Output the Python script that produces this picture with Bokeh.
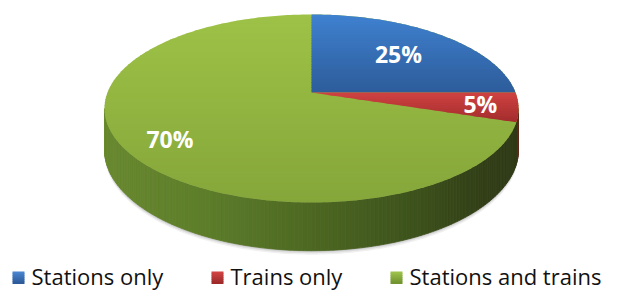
import numpy as np
from bokeh.plotting import figure
from bokeh.models import Range1d
from bokeh.core.properties import value
from bokeh.embed import file_html
from bokeh.resources import INLINE

# ---- data ----
categories = ["Stations only", "Trains only", "Stations and trains"]
shares = [25, 5, 70]
labels = ["25%", "5%", "70%"]

# ---- styles ----
top_grad = [("#3f81d0", "#2d5c9a"), ("#d04242", "#a22c2c"), ("#9ec247", "#85a63a")]
side_stops = [(0.0, "#68892f"), (0.25, "#5d7d2a"), (0.5, "#4d6822"),
              (0.75, "#3d521c"), (0.92, "#323f17"), (1.0, "#2e3a15")]
red_side = "#5e2a1c"
legend_grad = [("#4a88d4", "#2c5896"), ("#d44646", "#9a2828"), ("#a0c64c", "#6e8f2f")]
label_r = [0.65, 0.82, 0.79]
legend_sq_x = [12, 211, 390]
legend_txt_x = [31, 230, 409]

# ---- projection (perspective tilted disc) ----
CX, CY, A, B, K, H = 311.0, 92.0, 204.0, 91.3, 0.17, 40.0


def proj(theta_deg, r=1.0, bottom=False):
    t = np.radians(theta_deg)
    d = r * np.cos(t)
    s = r * np.sin(t)
    w = 1 + K * d
    x = CX + A * s / w
    y = CY - B * d / w
    if bottom:
        y = y + H / w
    return x, y


def hex2rgb(h):
    h = h.lstrip("#")
    return np.array([int(h[i:i + 2], 16) for i in (0, 2, 4)], dtype=float)


def rgb2hex(c):
    c = np.clip(np.round(c), 0, 255).astype(int)
    return "#%02x%02x%02x" % tuple(c)


def mix(c0, c1, t):
    return rgb2hex(hex2rgb(c0) * (1 - t) + hex2rgb(c1) * t)


def stops_color(u):
    u = min(max(u, 0), 1)
    for (u0, c0), (u1, c1) in zip(side_stops[:-1], side_stops[1:]):
        if u <= u1:
            return mix(c0, c1, (u - u0) / (u1 - u0))
    return side_stops[-1][1]


def clip_half(poly, yv, keep_below):
    out = []
    n = len(poly)
    for i in range(n):
        p0 = poly[i]
        p1 = poly[(i + 1) % n]
        in0 = p0[1] >= yv if keep_below else p0[1] <= yv
        in1 = p1[1] >= yv if keep_below else p1[1] <= yv
        if in0:
            out.append(p0)
        if in0 != in1:
            t = (yv - p0[1]) / (p1[1] - p0[1])
            out.append((p0[0] + t * (p1[0] - p0[0]), yv))
    return out


def band(poly, y0, y1):
    q = clip_half(poly, y0, True)
    if len(q) < 3:
        return []
    q = clip_half(q, y1, False)
    return q if len(q) >= 3 else []


def add_banded(poly, c_top, c_bot, xs, ys, cs, nb=40):
    yvals = [p[1] for p in poly]
    ymin, ymax = min(yvals), max(yvals)
    edges = np.linspace(ymin, ymax, nb + 1)
    for i in range(nb):
        q = band(poly, edges[i], min(edges[i + 1] + 0.8, ymax))
        if q:
            xs.append([p[0] for p in q])
            ys.append([p[1] for p in q])
            cs.append(mix(c_top, c_bot, (i + 0.5) / nb))


p = figure(width=606, height=291, x_range=Range1d(0, 606), y_range=Range1d(291, 0),
           output_backend="svg", toolbar_location=None, min_border=0,
           x_axis_location=None, y_axis_location=None)
p.grid.visible = False
p.outline_line_color = None
p.background_fill_color = "white"
p.border_fill_color = "white"

# angles
bounds = np.concatenate([[0], np.cumsum(shares)]) / sum(shares) * 360.0

# shadow
full = np.arange(0, 360.5, 1.0)
for off, al in [(4.0, 0.06), (2.5, 0.08), (1.2, 0.10)]:
    sx, sy = proj(full, bottom=True)
    p.patch(list(sx), list(sy + off), fill_color="#000000", fill_alpha=al, line_color=None)

# side strips
th0 = np.degrees(np.arccos(-K))
th1 = 360 - th0
angs = np.linspace(th0, th1, 161)
sxs, sys_, scs = [], [], []
for a0, a1 in zip(angs[:-1], angs[1:]):
    xa, ya = proj(a0)
    xb, yb = proj(a1)
    xc, yc = proj(a1, bottom=True)
    xd, yd = proj(a0, bottom=True)
    xm = 0.5 * (xa + xb)
    am = 0.5 * (a0 + a1)
    if bounds[1] <= am < bounds[2]:
        col = red_side
    else:
        col = stops_color((xm - 103) / (517 - 103))
    sxs.append([xa, xb, xc, xd])
    sys_.append([ya, yb, yc, yd])
    scs.append(col)
p.patches(sxs, sys_, fill_color=scs, line_color=scs, line_width=0.8)

# top faces
txs, tys, tcs = [], [], []
ex, ey = proj(full)
add_banded(list(zip(ex, ey)), top_grad[2][0], top_grad[2][1], txs, tys, tcs, nb=60)
for i in (0, 1):
    arc = np.linspace(bounds[i], bounds[i + 1], max(int(bounds[i + 1] - bounds[i]), 4) + 1)
    ax, ay = proj(arc)
    poly = [(CX, CY)] + list(zip(ax, ay))
    add_banded(poly, top_grad[i][0], top_grad[i][1], txs, tys, tcs, nb=30 if i == 0 else 14)
p.patches(txs, tys, fill_color=tcs, line_color=None)

# labels
lx, ly = [], []
for i in range(3):
    m = 0.5 * (bounds[i] + bounds[i + 1])
    x, y = proj(m, r=label_r[i])
    lx.append(x)
    ly.append(y)
p.text(x=lx, y=ly, text=labels, text_font=value("Open Sans"), text_font_style="bold",
       text_font_size="23px", text_color="white", text_align="center", text_baseline="middle")

# legend
gxs, gys, gcs = [], [], []
sq_top, sq_bot = 271.0, 283.0
for i in range(3):
    nb = 6
    e = np.linspace(sq_top, sq_bot, nb + 1)
    for j in range(nb):
        x0 = legend_sq_x[i]
        x1 = x0 + 12
        gxs.append([x0, x1, x1, x0])
        gys.append([e[j], e[j], e[j + 1] + 0.5, e[j + 1] + 0.5])
        gcs.append(mix(legend_grad[i][0], legend_grad[i][1], (j + 0.5) / nb))
p.patches(gxs, gys, fill_color=gcs, line_color=None)
p.text(x=legend_txt_x, y=[275.5] * 3, text=categories, text_font=value("Open Sans"),
       text_font_size="22px", text_color="#111111", text_align="left",
       text_baseline="middle")

open("out.html", "w").write(file_html(p, INLINE))
